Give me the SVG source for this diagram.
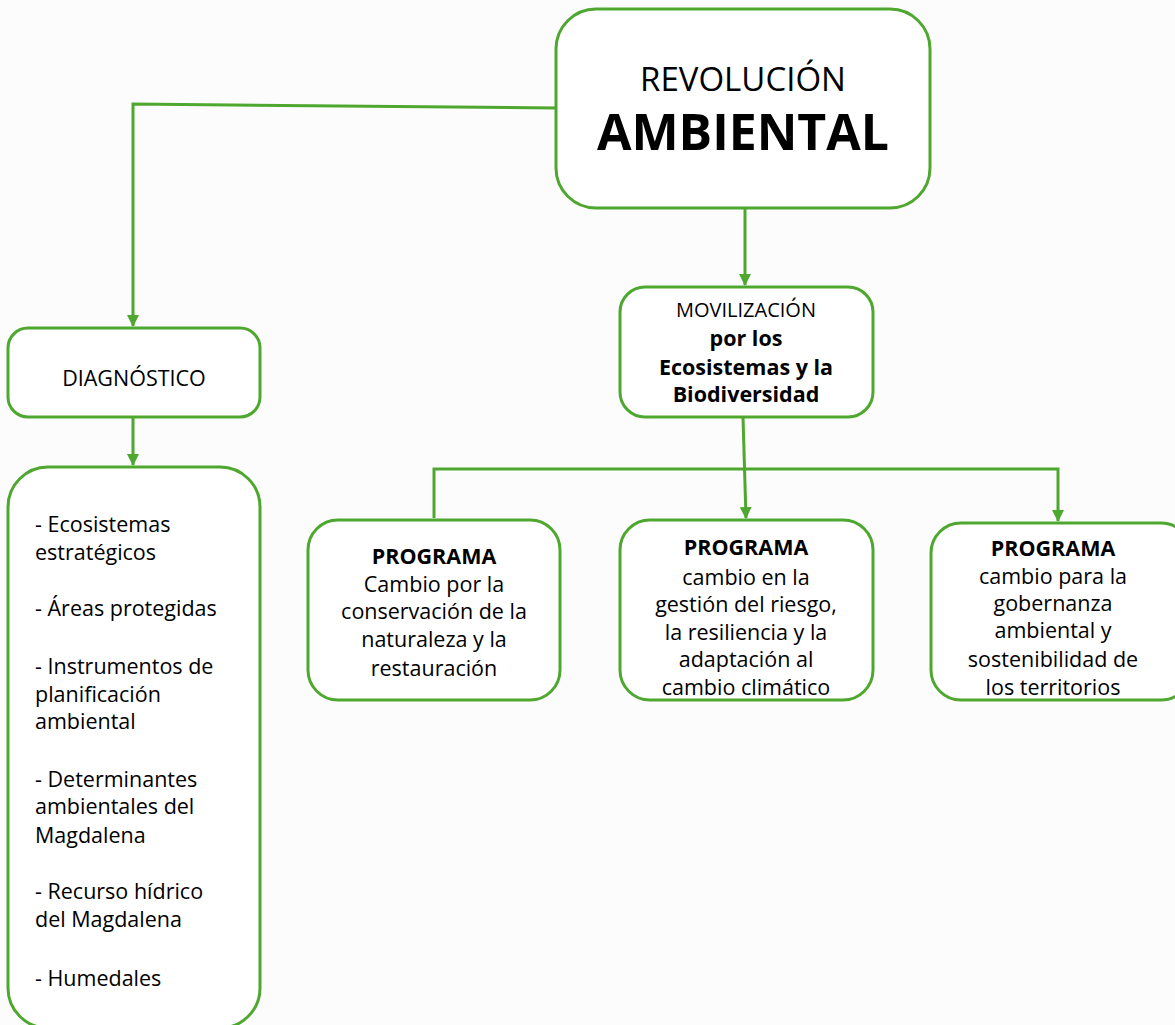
<svg xmlns="http://www.w3.org/2000/svg" width="1175" height="1025" viewBox="0 0 1175 1025">
<defs>
<marker id="arr" viewBox="0 0 12 12" refX="11" refY="6" markerWidth="12" markerHeight="12" markerUnits="userSpaceOnUse" orient="auto">
<path d="M0,0 L12,6 L0,12 Z" fill="#4ea72e"/>
</marker>
<style>
.box{fill:#ffffff;stroke:#4ea72e;stroke-width:3}
.con{fill:none;stroke:#4ea72e;stroke-width:3}
text{font-family:"Open Sans","Noto Sans",sans-serif;fill:#000}
.t{font-size:21.5px;text-anchor:middle}
.b{font-weight:bold}
.l{font-size:21.5px}
</style>
</defs>
<rect width="1175" height="1025" fill="#fcfcfc"/>
<g id="connectors">
<polyline class="con" points="556,108 133,104 133,326" marker-end="url(#arr)"/>
<line class="con" x1="745" y1="208" x2="745" y2="285" marker-end="url(#arr)"/>
<line class="con" x1="133" y1="417" x2="133" y2="465" marker-end="url(#arr)"/>
<line class="con" x1="743" y1="417" x2="746" y2="518" marker-end="url(#arr)"/>
<polyline class="con" points="434,518 434,469 1058,469 1058,521" marker-end="url(#arr)"/>
</g>
<g id="revolucion">
<rect class="box" x="556" y="9" width="374" height="199" rx="40"/>
<text x="743" y="91" style="font-size:33px;text-anchor:middle">REVOLUCIÓN</text>
<text x="743" y="150" class="b" style="font-size:50px;text-anchor:middle">AMBIENTAL</text>
</g>
<g id="diagnostico">
<rect class="box" x="8" y="328" width="252" height="89" rx="20"/>
<text x="134" y="386" class="t">DIAGNÓSTICO</text>
</g>
<g id="lista">
<rect class="box" x="8" y="467" width="252" height="561" rx="40"/>
<text class="l" x="35" y="532">- Ecosistemas</text>
<text class="l" x="35" y="560">estratégicos</text>
<text class="l" x="35" y="616">- Áreas protegidas</text>
<text class="l" x="35" y="674">- Instrumentos de</text>
<text class="l" x="35" y="702">planificación</text>
<text class="l" x="35" y="729">ambiental</text>
<text class="l" x="35" y="787">- Determinantes</text>
<text class="l" x="35" y="814">ambientales del</text>
<text class="l" x="35" y="843">Magdalena</text>
<text class="l" x="35" y="899">- Recurso hídrico</text>
<text class="l" x="35" y="927">del Magdalena</text>
<text class="l" x="35" y="986">- Humedales</text>
</g>
<g id="movilizacion">
<rect class="box" x="620" y="287" width="253" height="130" rx="25"/>
<text x="746" y="317" class="t" style="font-size:20px">MOVILIZACIÓN</text>
<text x="746" y="346" class="t b">por los</text>
<text x="746" y="375" class="t b">Ecosistemas y la</text>
<text x="746" y="402" class="t b">Biodiversidad</text>
</g>
<g id="programa1">
<rect class="box" x="308" y="520" width="252" height="180" rx="30"/>
<text x="434" y="564" class="t b">PROGRAMA</text>
<text x="434" y="592" class="t">Cambio por la</text>
<text x="434" y="619" class="t">conservación de la</text>
<text x="434" y="647" class="t">naturaleza y la</text>
<text x="434" y="676" class="t">restauración</text>
</g>
<g id="programa2">
<rect class="box" x="620" y="520" width="253" height="180" rx="30"/>
<text x="746" y="555" class="t b">PROGRAMA</text>
<text x="746" y="585" class="t">cambio en la</text>
<text x="746" y="612" class="t">gestión del riesgo,</text>
<text x="746" y="640" class="t">la resiliencia y la</text>
<text x="746" y="667" class="t">adaptación al</text>
<text x="746" y="695" class="t">cambio climático</text>
</g>
<g id="programa3">
<rect class="box" x="931" y="523" width="260" height="177" rx="30"/>
<text x="1053" y="556" class="t b">PROGRAMA</text>
<text x="1053" y="584" class="t">cambio para la</text>
<text x="1053" y="611" class="t">gobernanza</text>
<text x="1053" y="638" class="t">ambiental y</text>
<text x="1053" y="667" class="t">sostenibilidad de</text>
<text x="1053" y="695" class="t">los territorios</text>
</g>
</svg>
